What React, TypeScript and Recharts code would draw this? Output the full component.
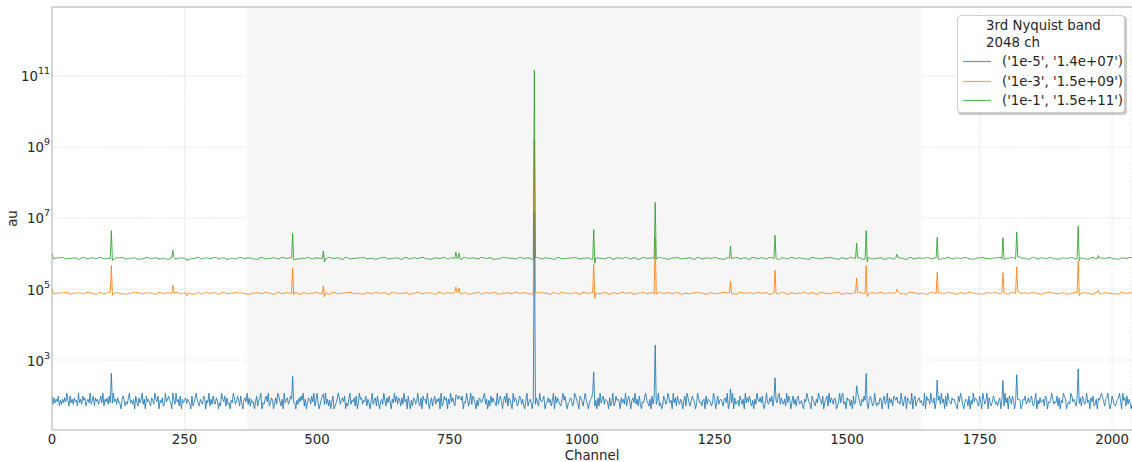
import React from 'react';
import {
  LineChart,
  Line,
  XAxis,
  YAxis,
  CartesianGrid,
  ReferenceArea,
  ReferenceLine,
  Legend,
} from 'recharts';

// ---------- data ----------
const channelCount = 2048;
const sampleStep = 2; // one plotted point every 2 channels

const xTicks = [0, 250, 500, 750, 1000, 1250, 1500, 1750, 2000];
const yTicks = [1e3, 1e5, 1e7, 1e9, 1e11];
const xDomain: [number, number] = [0, 2037.5];
const yDomain: [number, number] = [10.7, 8.75e12];
const shadedBand = [368.6, 1639.5];

const legendTitle = ['3rd Nyquist band', '2048 ch'];
const seriesNames = ["('1e-5', '1.4e+07')", "('1e-3', '1.5e+09')", "('1e-1', '1.5e+11')"];
const seriesColors = ['#1f77b4', '#ff7f0e', '#2ca02c'];

const baselineBlue = 70;
const baselineOrange = 7.6e4;
const baselineGreen = 7.3e5;

// spikes (channel, factor relative to the baseline)
const spikeChannels = [0, 112, 114, 228, 254, 454, 456, 512, 514, 762, 768, 910, 1022, 1024, 1138, 1280, 1364, 1518, 1536, 1538, 1594, 1670, 1794, 1820, 1822, 1824, 1826, 1936, 1938, 1974];
const spikeFactors = [1.4, 6.0, 0.87, 1.7, 0.85, 5.0, 0.9, 1.6, 0.8, 1.5, 1.4, 2e5, 6.5, 0.72, 38, 2.2, 4.5, 2.7, 6.0, 0.8, 1.3, 3.9, 3.8, 5.5, 1.1, 1.1, 1.08, 8.0, 0.85, 1.2];
const orangePeakChannel = 910;
const orangePeakValue = 1.5e9;

// blue channel noise, one digit per plotted point (read as level 0..9)
const blueNoise = [
  '52736481 52637495 18362745 19362857 14639258 17462583 91647283 51946273',
  '30586142 79352608 41735926 08463175 29648053 71294685 30752946 18063579',
  '64208137 95316428 70539162 84275031 96481723 05397248 61830574 92716340',
  '48157903 26849137 50372984 16093572 48619305 27485916 03762849 15930268',
  '73926150 48013697 25748031 69254718 03967254 81630492 57183046 29517384',
  '06394827 51729460 83051762 49317085 62940371 58264709 13857062 94731586',
  '27580439 61492873 05176348 92605183 74319268 40583917 62094751 38726105',
  '91463058 27319546 80247361 59083742 16958203 47612985 30874169 52036798',
  '45071936 82654071 39128564 07362915 84057392 61820437 95316082 74259130',
  '18624973 50937184 26405819 73158640 29734156 08265413 97038256 41673902',
  '63907245 18526093 74831506 29647381 05932748 16053892 74261938 50482617',
  '82351064 97420853 16397528 04681937 52760149 38924075 61508234 97316485',
  '37068512 94132760 58249073 61875034 29416807 53290681 46735219 08562943',
  '70415829 36081954 27563108 49720365 18052947 63184096 25907314 86241570',
  '54193708 62850471 39016582 47368215 90527346 18704359 62438170 53986024',
  '29846317 05718624 93507481 26035897 41679302 85213679 40957182 63024815',
].join('').replace(/\s/g, '');
const blueNoiseLevels = [-0.22, -0.14, -0.09, -0.05, -0.02, 0.02, 0.05, 0.09, 0.14, 0.22];

// green / orange small jitter, one digit per 4 plotted points (level 1..5)
const greenNoise = [
  '34523415 24352314 52341253 42315243 13524352 41325342 15234253 41235243',
  '25341523 45231452 34152435 21435243 15342534 12543253 41524315 23452341',
  '43251435 24153425 31452341 52435214 35241534 25314253 42153245 31425341',
  '52341425 31524352 41352435 21453245 13524315 24352143 52431524 35214352',
].join('').replace(/\s/g, '');
const orangeNoise = [
  '23451342 53142534 21354243 15243524 31425341 52354213 42531524 35142352',
  '41523452 31425341 53241352 43152435 24135243 51342534 21453142 53241534',
  '32514253 41352415 34251324 53142354 21534253 41325142 35241532 45132453',
  '14352435 21542315 34253142 53214352 41532435 21453241 35243152 43215342',
].join('').replace(/\s/g, '');
const smallNoiseLevels = [-0.024, -0.012, 0, 0.012, 0.024];

// ---------- table built from the arrays ----------
const spikeMap = new Map<number, number>();
spikeChannels.forEach((c, k) => spikeMap.set(c, spikeFactors[k]));

const chartData = Array.from({ length: channelCount / sampleStep }, (_, i) => {
  const ch = i * sampleStep;
  const bd = Number(blueNoise[i] ?? '4');
  const gd = Number(greenNoise[i >> 2] ?? '3') - 1;
  const od = Number(orangeNoise[i >> 2] ?? '3') - 1;
  let blue = baselineBlue * Math.pow(10, blueNoiseLevels[bd] ?? 0);
  let orange = baselineOrange * Math.pow(10, smallNoiseLevels[od] ?? 0);
  let green = baselineGreen * Math.pow(10, smallNoiseLevels[gd] ?? 0);
  const f = spikeMap.get(ch);
  if (f !== undefined) {
    blue = baselineBlue * f;
    orange = baselineOrange * f;
    green = baselineGreen * f;
  }
  if (ch === orangePeakChannel) orange = orangePeakValue;
  return { ch, blue, orange, green };
});

// ---------- rendering ----------
const FONT = 'DejaVu Sans';
const TEXT = '#262626';
const SPINE = '#b3b3b3';
const GRID = '#d4d4d4';

const XTick = (props: any) => {
  const { x, y, payload } = props;
  return (
    <text x={x} y={y + 14} textAnchor="middle" fontFamily={FONT} fontSize={13.33} fill={TEXT}>
      {payload.value}
    </text>
  );
};

const YTick = (props: any) => {
  const { x, y, payload } = props;
  const exp = Math.round(Math.log10(payload.value));
  return (
    <text x={x} y={y + 5.5} textAnchor="end" fontFamily={FONT} fontSize={13.33} fill={TEXT}>
      <tspan>10</tspan>
      <tspan dy={-7} fontSize={9.5}>
        {exp}
      </tspan>
    </text>
  );
};

const LegendBox = () => (
  <div
    style={{
      position: 'relative',
      width: 168,
      height: 98.5,
      boxSizing: 'border-box',
      background: '#ffffff',
      border: '1px solid #cfcfcf',
      borderRadius: 4,
      boxShadow: '1.5px 1.5px 1px rgba(0,0,0,0.22)',
      fontFamily: FONT,
      fontSize: 13.33,
      color: TEXT,
      lineHeight: '17px',
    }}
  >
    <div style={{ position: 'absolute', left: 28, top: 1.5, whiteSpace: 'nowrap' }}>
      {legendTitle.map((t) => (
        <div key={t}>{t}</div>
      ))}
    </div>
    {seriesNames.map((name, k) => (
      <div key={name} style={{ position: 'absolute', left: 0, top: 37.5 + k * 19.5, height: 17, width: '100%' }}>
        <svg
          width={30}
          height={17}
          style={{ position: 'absolute', left: 4, top: 0, overflow: 'visible' }}
        >
          <line x1={1} x2={29} y1={8.5} y2={8.5} stroke={seriesColors[k]} strokeWidth={1.2} strokeOpacity={0.75} />
        </svg>
        <div style={{ position: 'absolute', left: 44, top: 0, whiteSpace: 'nowrap' }}>{name}</div>
      </div>
    ))}
  </div>
);

export default function App() {
  return (
    <div style={{ position: 'absolute', left: 0, top: 0, width: 1132, height: 462, background: '#fff' }}>
      <LineChart
        width={1132}
        height={462}
        data={chartData}
        margin={{ top: 7, right: 0, bottom: 0, left: 0 }}
      >
        <ReferenceArea
          x1={shadedBand[0]}
          x2={shadedBand[1]}
          fill="#f6f6f6"
          fillOpacity={1}
          stroke="none"
          ifOverflow="hidden"
        />
        <CartesianGrid stroke={GRID} strokeDasharray="1 1.6" strokeWidth={0.9} />
        <XAxis
          type="number"
          dataKey="ch"
          domain={xDomain}
          allowDataOverflow
          ticks={xTicks}
          interval={0}
          tickLine={false}
          tickSize={0}
          tickMargin={0}
          height={32}
          axisLine={{ stroke: SPINE, strokeWidth: 1 }}
          tick={<XTick />}
          label={{
            content: (p: any) => {
              const vb = p.viewBox || { x: 52, y: 430, width: 1080 };
              return (
                <text
                  x={vb.x + vb.width / 2}
                  y={vb.y + 29.5}
                  textAnchor="middle"
                  fontFamily={FONT}
                  fontSize={13.33}
                  fill={TEXT}
                >
                  Channel
                </text>
              );
            },
          }}
        />
        <YAxis
          scale="log"
          domain={yDomain}
          allowDataOverflow
          ticks={yTicks}
          interval={0}
          width={52}
          tickLine={false}
          tickSize={0}
          tickMargin={2}
          axisLine={{ stroke: SPINE, strokeWidth: 1 }}
          tick={<YTick />}
          label={{
            content: (p: any) => {
              const vb = p.viewBox || { x: 0, y: 7, height: 423 };
              return (
                <text
                  transform={`translate(${vb.x + 16.5},${vb.y + vb.height / 2}) rotate(-90)`}
                  textAnchor="middle"
                  fontFamily={FONT}
                  fontSize={13.33}
                  fill={TEXT}
                >
                  au
                </text>
              );
            },
          }}
        />
        <ReferenceLine y={yDomain[1]} stroke={SPINE} strokeWidth={1} ifOverflow="visible" />
        <Line
          type="linear"
          dataKey="blue"
          name={seriesNames[0]}
          stroke={seriesColors[0]}
          strokeWidth={1}
          strokeOpacity={0.85}
          dot={false}
          activeDot={false}
          isAnimationActive={false}
        />
        <Line
          type="linear"
          dataKey="orange"
          name={seriesNames[1]}
          stroke={seriesColors[1]}
          strokeWidth={1}
          strokeOpacity={0.85}
          dot={false}
          activeDot={false}
          isAnimationActive={false}
        />
        <Line
          type="linear"
          dataKey="green"
          name={seriesNames[2]}
          stroke={seriesColors[2]}
          strokeWidth={1}
          strokeOpacity={0.85}
          dot={false}
          activeDot={false}
          isAnimationActive={false}
        />
        <Legend
          layout="horizontal"
          verticalAlign="middle"
          align="center"
          content={<LegendBox />}
          wrapperStyle={{ left: 957, top: 14.7, width: 168, height: 98.5 }}
        />
      </LineChart>
    </div>
  );
}
